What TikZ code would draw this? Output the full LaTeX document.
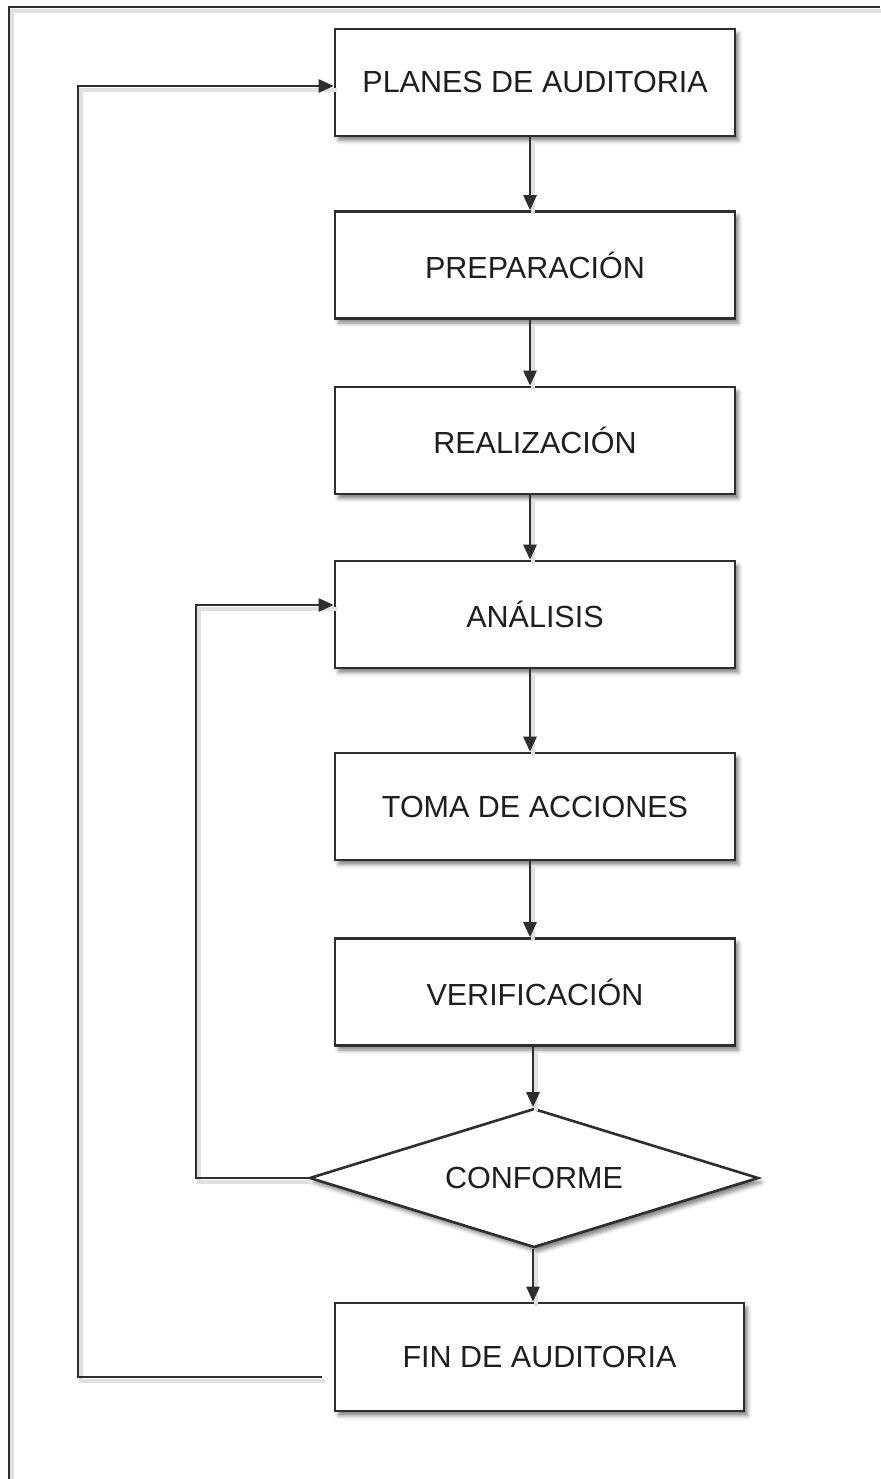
\documentclass[tikz,border=0pt]{standalone}
\usepackage{fontspec}
\setmainfont{Liberation Sans}
\usetikzlibrary{shapes.geometric,shadows.blur,arrows.meta}
\definecolor{edge}{HTML}{2E2E2E}
\definecolor{txt}{HTML}{1E1E1E}
\tikzset{
  stepbox/.style={draw=edge, line width=2.6pt, fill=white, rectangle,
    minimum width=400pt, minimum height=107pt, inner sep=0pt,
    font=\fontsize{30.5}{34}\selectfont, text=txt,
    blur shadow={shadow xshift=3.5pt, shadow yshift=-4.5pt, shadow blur radius=4pt, shadow opacity=50}},
  decide/.style={draw=edge, line width=2.6pt, fill=white, diamond, aspect=3.2,
    minimum width=449pt, minimum height=139pt, inner sep=0pt,
    font=\fontsize{30.5}{34}\selectfont, text=txt,
    blur shadow={shadow xshift=3.5pt, shadow yshift=-4.5pt, shadow blur radius=4pt, shadow opacity=50}},
  lineshadow/.style={preaction={draw=black!12, line width=4.5pt, -, transform canvas={shift={(3pt,-4pt)}}}},
  conn/.style={draw=edge, line width=2.5pt, lineshadow},
  arr/.style={conn, -{Triangle[length=15pt,width=13pt]}},
}
\begin{document}
\begin{tikzpicture}[x=1pt,y=-1pt]
\useasboundingbox (0,0) rectangle (880,1479);
% frame
\coordinate (fbl) at (9,1479);
\coordinate (ftl) at (9,7);
\coordinate (ftr) at (880,7);
\draw[conn, line width=2pt] (fbl) -- (ftl) -- (ftr);

\node[stepbox] (b1) at (535,82.5) {PLANES DE AUDITORIA};
\node[stepbox] (b2) at (535,265) {PREPARACIÓN};
\node[stepbox] (b3) at (535,440.5) {REALIZACIÓN};
\node[stepbox] (b4) at (535,614.5) {ANÁLISIS};
\node[stepbox] (b5) at (535,806.5) {TOMA DE ACCIONES};
\node[stepbox] (b6) at (535,992) {VERIFICACIÓN};
\node[decide] (d) at (534,1178) {CONFORME};
\node[stepbox, minimum width=409pt, minimum height=108pt] (b7) at (539.5,1357) {FIN DE AUDITORIA};

\coordinate (ax) at (530,0);
\coordinate (ax2) at (533,0);
\draw[arr] (b1.south -| ax) -- (b2.north -| ax);
\draw[arr] (b2.south -| ax) -- (b3.north -| ax);
\draw[arr] (b3.south -| ax) -- (b4.north -| ax);
\draw[arr] (b4.south -| ax) -- (b5.north -| ax);
\draw[arr] (b5.south -| ax) -- (b6.north -| ax);
\draw[arr] (b6.south -| ax2) -- (d.north -| ax2);
\draw[arr] (d.south -| ax2) -- (b7.north -| ax2);

% loop from CONFORME back to ANALISIS
\coordinate (l2a) at (196,1178);
\coordinate (l2b) at (196,605);
\draw[arr] (d.west) -- (l2a) -- (l2b) -- (b4.west |- l2b);

% loop from FIN back to PLANES
\coordinate (l1s) at (322,1377);
\coordinate (l1a) at (78,1377);
\coordinate (l1b) at (78,86);
\draw[arr] (l1s) -- (l1a) -- (l1b) -- (b1.west |- l1b);
\end{tikzpicture}
\end{document}
